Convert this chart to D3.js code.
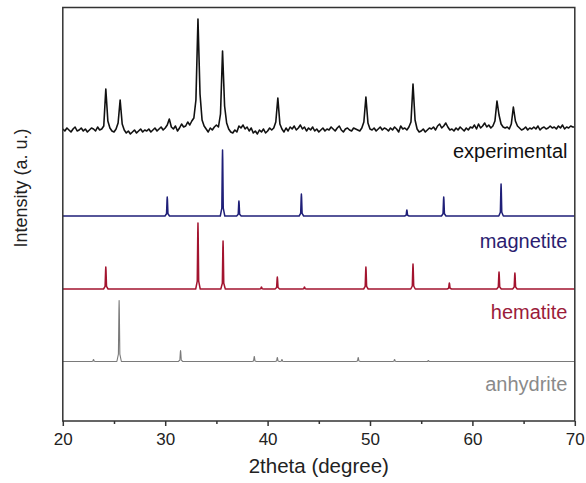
<!DOCTYPE html>
<html>
<head>
<meta charset="utf-8">
<script src="https://cdn.jsdelivr.net/npm/d3@7"></script>
<style>
  html, body { margin: 0; padding: 0; background: #fff; }
  svg { display: block; font-family: "Liberation Sans", Arial, sans-serif; }
</style>
</head>
<body>
<svg id="chart" width="586" height="483"></svg>
<script>
// ---------- DATA ----------
const xTicks = [20, 30, 40, 50, 60, 70];
const xMinorTicks = [25, 35, 45, 55, 65];
const seriesNames = ["experimental", "magnetite", "hematite", "anhydrite"];
const seriesOffsets = [291, 205, 132, 59.5];   // vertical stacking offsets (a.u.)

// experimental pattern: intensity above its baseline, 2theta = 20 + 0.2*i
const expStart = 20, expStep = 0.2;
const expIntensity = [
  1,-1,2,0,-2,1,3,-1,0,2,
  -1,1,-2,0,2,1,-1,3,0,1,
  4,41,9,2,-1,-2,1,7,30,6,
  0,-3,-1,-4,-2,0,-3,-1,1,-2,
  0,-1,1,-2,0,2,-1,1,3,0,
  2,5,11,3,1,4,-1,2,6,3,
  4,8,5,9,12,30,111,36,10,4,
  1,-2,2,0,3,5,3,16,79,24,
  7,1,-2,-3,0,-2,4,2,5,1,
  3,-1,2,-3,-1,-4,0,-2,1,-3,
  -1,2,0,2,8,32,6,1,-2,2,
  -1,3,1,4,0,2,5,1,3,-1,
  2,0,3,-1,1,-2,0,2,-1,1,
  0,3,1,-1,2,4,0,-2,1,2,
  0,-1,2,1,0,-1,2,8,33,7,
  1,0,2,-1,1,3,0,2,1,-1,
  2,0,3,1,-2,4,1,2,0,3,
  8,46,10,1,-2,-1,1,-2,0,2,
  1,3,0,4,6,2,4,7,3,0,
  1,-1,2,0,3,1,-1,2,0,3,
  2,5,1,6,2,4,7,3,5,2,
  4,9,29,15,6,3,2,3,1,6,
  23,9,4,2,0,1,3,0,2,1,
  3,1,4,0,2,3,1,2,4,2,
  3,1,4,2,5,1,3,2,4,3,
  3
];

// reference patterns: [2theta, relative intensity]
const magnetitePeaks = [[30.2,19],[35.6,66],[37.2,15],[43.3,22],[53.6,6],[57.2,19],[62.8,32]];
const hematitePeaks  = [[24.2,22],[33.2,66],[35.65,48],[39.4,2],[40.95,12],[43.6,2],[49.6,22],[54.2,25],[57.75,6],[62.6,17],[64.15,16]];
const anhydritePeaks = [[23.0,2],[25.5,61],[31.5,11],[38.7,5],[40.95,4],[41.4,2],[48.85,4],[52.4,2],[55.7,1]];

const lineColors  = ["#111111", "#1f1f78", "#a3142f", "#7a7a7a"];
const labelColors = ["#111111", "#2b1d70", "#9b1b3a", "#8a8a8a"];

// ---------- LAYOUT ----------
const margin = { left: 62.8, right: 586 - 574.8, top: 7.5, bottom: 483 - 421 };
const W = 586, H = 483;
const x = d3.scaleLinear().domain([20, 70]).range([margin.left, W - margin.right]);
const y = d3.scaleLinear().domain([0, 413.5]).range([H - margin.bottom, margin.top]);

const svg = d3.select("#chart");

// build traces
const expData = expIntensity.map((v, i) => [expStart + i * expStep, v + seriesOffsets[0]]);

function stickTrace(peaks, offset) {
  const pts = [[20, offset]];
  peaks.slice().sort((a, b) => a[0] - b[0]).forEach(([p, h]) => {
    pts.push([p - 0.22, offset]);
    pts.push([p - 0.07, offset + h * 0.12]);
    pts.push([p - 0.02, offset + h * 0.85]);
    pts.push([p, offset + h]);
    pts.push([p + 0.02, offset + h * 0.85]);
    pts.push([p + 0.07, offset + h * 0.12]);
    pts.push([p + 0.22, offset]);
  });
  pts.push([70, offset]);
  return pts;
}

const traces = [
  expData,
  stickTrace(magnetitePeaks, seriesOffsets[1]),
  stickTrace(hematitePeaks, seriesOffsets[2]),
  stickTrace(anhydritePeaks, seriesOffsets[3])
];
const widths = [1.6, 1.5, 1.5, 1.1];

const line = d3.line().x(d => x(d[0])).y(d => y(d[1]));

svg.append("defs").append("clipPath").attr("id", "clip")
  .append("rect")
  .attr("x", margin.left).attr("y", margin.top)
  .attr("width", x(70) - x(20)).attr("height", y(0) - y(413.5));

const g = svg.append("g").attr("clip-path", "url(#clip)");
traces.forEach((t, i) => {
  g.append("path")
    .datum(t)
    .attr("fill", "none")
    .attr("stroke", lineColors[i])
    .attr("stroke-width", widths[i])
    .attr("stroke-linejoin", "round")
    .attr("d", line);
});

// series labels
const labelBaselines = [158, 248, 319, 391];
seriesNames.forEach((name, i) => {
  svg.append("text")
    .attr("x", 567.5)
    .attr("y", labelBaselines[i])
    .attr("text-anchor", "end")
    .attr("font-size", 20)
    .attr("fill", labelColors[i])
    .text(name);
});

// frame
svg.append("rect")
  .attr("x", x(20)).attr("y", y(413.5))
  .attr("width", x(70) - x(20)).attr("height", y(0) - y(413.5))
  .attr("fill", "none").attr("stroke", "#333").attr("stroke-width", 1.5);

// x axis
const xAxis = d3.axisBottom(x).tickValues(xTicks).tickSize(5).tickPadding(7).tickFormat(d3.format("d"));
const ax = svg.append("g").attr("transform", `translate(0,${y(0)})`).call(xAxis);
ax.select(".domain").remove();
ax.selectAll(".tick line").attr("stroke", "#333").attr("stroke-width", 1.5);
ax.selectAll(".tick text").attr("font-size", 17).attr("fill", "#222")
  .attr("font-family", "Liberation Sans, Arial, sans-serif");

const axMinor = d3.axisBottom(x).tickValues(xMinorTicks).tickSize(3).tickFormat("");
const am = svg.append("g").attr("transform", `translate(0,${y(0)})`).call(axMinor);
am.select(".domain").remove();
am.selectAll(".tick line").attr("stroke", "#333").attr("stroke-width", 1.5);

// axis titles
svg.append("text")
  .attr("x", (x(20) + x(70)) / 2)
  .attr("y", 473)
  .attr("text-anchor", "middle")
  .attr("font-size", 20.5)
  .attr("fill", "#222")
  .text("2theta (degree)");

svg.append("text")
  .attr("transform", "translate(26.5,188) rotate(-90)")
  .attr("text-anchor", "middle")
  .attr("font-size", 18)
  .attr("fill", "#222")
  .text("Intensity (a. u.)");
</script>
</body>
</html>
